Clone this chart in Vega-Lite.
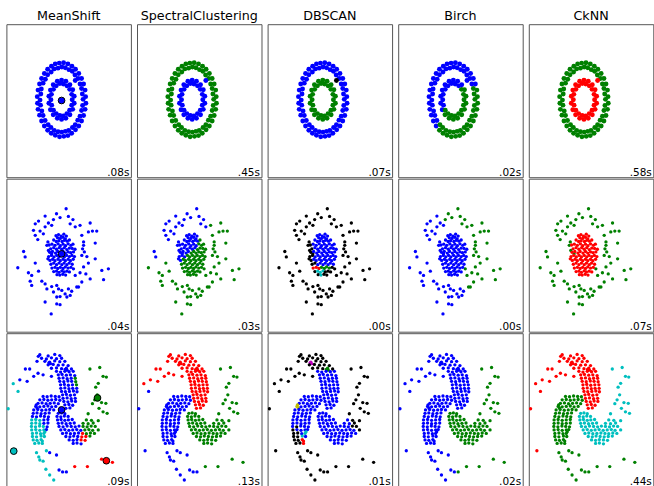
{
"$schema": "https://vega.github.io/schema/vega-lite/v6.json",
"padding": {"left": 5.4, "top": 9.2, "right": 0, "bottom": 0},
"bounds": "flush",
"background": "white",
"datasets": {"groups": [
{"g":"cob","s":"c","k":"p","MS":"b","SC":"g","DB":"b","BI":"b","CK":"g"},
{"g":"cog","s":"c","k":"p","MS":"b","SC":"g","DB":"b","BI":"g","CK":"g"},
{"g":"cib","s":"c","k":"p","MS":"b","SC":"b","DB":"g","BI":"b","CK":"r"},
{"g":"cig","s":"c","k":"p","MS":"b","SC":"b","DB":"g","BI":"g","CK":"r"},
{"g":"cx","s":"c","k":"p","MS":"b","SC":"b","DB":"k","BI":"b","CK":"r"},
{"g":"cm","s":"c","k":"m","MS":"b"},
{"g":"no1","s":"n","k":"p","MS":"b","SC":"b","DB":"k","BI":"b","CK":"g"},
{"g":"no2","s":"n","k":"p","MS":"b","SC":"g","DB":"k","BI":"b","CK":"g"},
{"g":"no3","s":"n","k":"p","MS":"b","SC":"b","DB":"k","BI":"g","CK":"g"},
{"g":"no4","s":"n","k":"p","MS":"b","SC":"g","DB":"k","BI":"g","CK":"g"},
{"g":"nbb","s":"n","k":"p","MS":"b","SC":"b","DB":"b","BI":"b","CK":"r"},
{"g":"ngb","s":"n","k":"p","MS":"b","SC":"g","DB":"b","BI":"b","CK":"r"},
{"g":"nbk","s":"n","k":"p","MS":"b","SC":"b","DB":"k","BI":"b","CK":"r"},
{"g":"ngk","s":"n","k":"p","MS":"b","SC":"g","DB":"k","BI":"b","CK":"r"},
{"g":"ngr","s":"n","k":"p","MS":"b","SC":"g","DB":"r","BI":"b","CK":"r"},
{"g":"ngg","s":"n","k":"p","MS":"b","SC":"g","DB":"g","BI":"b","CK":"r"},
{"g":"ngc","s":"n","k":"p","MS":"b","SC":"g","DB":"c","BI":"b","CK":"r"},
{"g":"nm","s":"n","k":"m","MS":"b"},
{"g":"s1","s":"s","k":"p","MS":"b","SC":"r","DB":"b","BI":"b","CK":"r"},
{"g":"s1g","s":"s","k":"p","MS":"g","SC":"r","DB":"b","BI":"b","CK":"r"},
{"g":"s2","s":"s","k":"p","MS":"b","SC":"r","DB":"k","BI":"b","CK":"r"},
{"g":"s2m","s":"s","k":"p","MS":"b","SC":"r","DB":"m","BI":"b","CK":"r"},
{"g":"s2g","s":"s","k":"p","MS":"b","SC":"r","DB":"g","BI":"b","CK":"r"},
{"g":"s4a","s":"s","k":"p","MS":"c","SC":"r","DB":"k","BI":"b","CK":"r"},
{"g":"s4b","s":"s","k":"p","MS":"c","SC":"b","DB":"k","BI":"b","CK":"r"},
{"g":"c1","s":"s","k":"p","MS":"b","SC":"g","DB":"b","BI":"g","CK":"c"},
{"g":"c2","s":"s","k":"p","MS":"g","SC":"g","DB":"b","BI":"g","CK":"c"},
{"g":"c3","s":"s","k":"p","MS":"r","SC":"g","DB":"b","BI":"g","CK":"c"},
{"g":"c4","s":"s","k":"p","MS":"g","SC":"g","DB":"k","BI":"g","CK":"c"},
{"g":"g1","s":"s","k":"p","MS":"b","SC":"b","DB":"b","BI":"b","CK":"g"},
{"g":"g2","s":"s","k":"p","MS":"c","SC":"b","DB":"k","BI":"b","CK":"g"},
{"g":"g3","s":"s","k":"p","MS":"c","SC":"b","DB":"b","BI":"b","CK":"g"},
{"g":"gy","s":"s","k":"p","MS":"b","SC":"b","DB":"y","BI":"b","CK":"g"},
{"g":"gc","s":"s","k":"p","MS":"c","SC":"b","DB":"c","BI":"b","CK":"g"},
{"g":"gr","s":"s","k":"p","MS":"c","SC":"b","DB":"r","BI":"b","CK":"g"},
{"g":"g5","s":"s","k":"p","MS":"b","SC":"b","DB":"k","BI":"b","CK":"g"},
{"g":"g6","s":"s","k":"p","MS":"r","SC":"g","DB":"k","BI":"g","CK":"g"},
{"g":"g7","s":"s","k":"p","MS":"b","SC":"b","DB":"k","BI":"g","CK":"g"},
{"g":"smb","s":"s","k":"m","MS":"b"},
{"g":"smg","s":"s","k":"m","MS":"g"},
{"g":"smc","s":"s","k":"m","MS":"c"},
{"g":"smr","s":"s","k":"m","MS":"r"},
{"g":"tc","s":"c","k":"t","MS":".08s","SC":".45s","DB":".07s","BI":".02s","CK":".58s"},
{"g":"tn","s":"n","k":"t","MS":".04s","SC":".03s","DB":".00s","BI":".00s","CK":".07s"},
{"g":"ts","s":"s","k":"t","MS":".09s","SC":".13s","DB":".01s","BI":".02s","CK":".44s"}
]},
"data": {"values": [
{"x":0.85,"y":0.01,"g":"cog"},{"x":0.95,"y":0.08,"g":"cog"},{"x":0.82,"y":0.15,"g":"cog"},{"x":0.93,"y":0.25,"g":"cog"},
{"x":0.79,"y":0.29,"g":"cog"},{"x":0.87,"y":0.41,"g":"cob"},{"x":0.73,"y":0.41,"g":"cob"},{"x":0.79,"y":0.55,"g":"cob"},
{"x":0.65,"y":0.55,"g":"cob"},{"x":0.68,"y":0.68,"g":"cob"},{"x":0.53,"y":0.64,"g":"cob"},{"x":0.55,"y":0.79,"g":"cob"},
{"x":0.42,"y":0.74,"g":"cob"},{"x":0.41,"y":0.87,"g":"cob"},{"x":0.29,"y":0.78,"g":"cob"},{"x":0.25,"y":0.93,"g":"cob"},
{"x":0.15,"y":0.83,"g":"cob"},{"x":0.08,"y":0.96,"g":"cob"},{"x":0.01,"y":0.85,"g":"cob"},{"x":-0.09,"y":0.95,"g":"cob"},
{"x":-0.14,"y":0.82,"g":"cob"},{"x":-0.25,"y":0.93,"g":"cob"},{"x":-0.29,"y":0.80,"g":"cob"},{"x":-0.40,"y":0.87,"g":"cob"},
{"x":-0.41,"y":0.72,"g":"cob"},{"x":-0.55,"y":0.79,"g":"cob"},{"x":-0.55,"y":0.65,"g":"cob"},{"x":-0.68,"y":0.68,"g":"cob"},
{"x":-0.64,"y":0.53,"g":"cob"},{"x":-0.79,"y":0.55,"g":"cob"},{"x":-0.73,"y":0.43,"g":"cob"},{"x":-0.87,"y":0.41,"g":"cob"},
{"x":-0.80,"y":0.28,"g":"cob"},{"x":-0.93,"y":0.25,"g":"cob"},{"x":-0.82,"y":0.15,"g":"cob"},{"x":-0.96,"y":0.08,"g":"cob"},
{"x":-0.85,"y":-0.01,"g":"cob"},{"x":-0.95,"y":-0.09,"g":"cob"},{"x":-0.83,"y":-0.14,"g":"cob"},{"x":-0.93,"y":-0.25,"g":"cob"},
{"x":-0.78,"y":-0.29,"g":"cob"},{"x":-0.87,"y":-0.40,"g":"cob"},{"x":-0.73,"y":-0.41,"g":"cob"},{"x":-0.79,"y":-0.55,"g":"cob"},
{"x":-0.65,"y":-0.54,"g":"cob"},{"x":-0.68,"y":-0.68,"g":"cob"},{"x":-0.53,"y":-0.65,"g":"cog"},{"x":-0.55,"y":-0.79,"g":"cog"},
{"x":-0.42,"y":-0.72,"g":"cog"},{"x":-0.41,"y":-0.87,"g":"cog"},{"x":-0.29,"y":-0.80,"g":"cog"},{"x":-0.25,"y":-0.92,"g":"cog"},
{"x":-0.14,"y":-0.83,"g":"cog"},{"x":-0.08,"y":-0.96,"g":"cog"},{"x":0.01,"y":-0.84,"g":"cog"},{"x":0.09,"y":-0.95,"g":"cog"},
{"x":0.15,"y":-0.82,"g":"cog"},{"x":0.25,"y":-0.93,"g":"cog"},{"x":0.28,"y":-0.80,"g":"cog"},{"x":0.40,"y":-0.87,"g":"cog"},
{"x":0.43,"y":-0.72,"g":"cog"},{"x":0.55,"y":-0.78,"g":"cog"},{"x":0.54,"y":-0.65,"g":"cog"},{"x":0.68,"y":-0.68,"g":"cog"},
{"x":0.64,"y":-0.53,"g":"cog"},{"x":0.79,"y":-0.55,"g":"cog"},{"x":0.73,"y":-0.43,"g":"cog"},{"x":0.87,"y":-0.41,"g":"cog"},
{"x":0.79,"y":-0.28,"g":"cog"},{"x":0.93,"y":-0.25,"g":"cog"},{"x":0.83,"y":-0.15,"g":"cog"},{"x":0.96,"y":-0.09,"g":"cog"},
{"x":0.42,"y":0.00,"g":"cig"},{"x":0.50,"y":0.09,"g":"cig"},{"x":0.40,"y":0.14,"g":"cig"},{"x":0.44,"y":0.26,"g":"cig"},
{"x":0.32,"y":0.27,"g":"cig"},{"x":0.33,"y":0.39,"g":"cib"},{"x":0.21,"y":0.36,"g":"cib"},{"x":0.17,"y":0.48,"g":"cib"},
{"x":0.07,"y":0.41,"g":"cib"},{"x":0.00,"y":0.51,"g":"cib"},{"x":-0.07,"y":0.42,"g":"cib"},{"x":-0.17,"y":0.48,"g":"cib"},
{"x":-0.21,"y":0.36,"g":"cib"},{"x":-0.33,"y":0.39,"g":"cib"},{"x":-0.32,"y":0.27,"g":"cib"},{"x":-0.44,"y":0.25,"g":"cib"},
{"x":-0.40,"y":0.14,"g":"cib"},{"x":-0.50,"y":0.09,"g":"cib"},{"x":-0.42,"y":0.00,"g":"cib"},{"x":-0.50,"y":-0.09,"g":"cib"},
{"x":-0.39,"y":-0.14,"g":"cib"},{"x":-0.44,"y":-0.26,"g":"cib"},{"x":-0.32,"y":-0.27,"g":"cig"},{"x":-0.33,"y":-0.39,"g":"cig"},
{"x":-0.21,"y":-0.36,"g":"cig"},{"x":-0.17,"y":-0.48,"g":"cig"},{"x":-0.07,"y":-0.41,"g":"cig"},{"x":0.00,"y":-0.51,"g":"cig"},
{"x":0.07,"y":-0.42,"g":"cig"},{"x":0.17,"y":-0.48,"g":"cig"},{"x":0.21,"y":-0.36,"g":"cig"},{"x":0.33,"y":-0.39,"g":"cig"},
{"x":0.32,"y":-0.27,"g":"cig"},{"x":0.44,"y":-0.25,"g":"cig"},{"x":0.40,"y":-0.14,"g":"cig"},{"x":0.50,"y":-0.09,"g":"cig"},
{"x":0.54,"y":0.50,"g":"cx"},
{"x":0.00,"y":-0.02,"g":"cm"},

{"x":0.18,"y":1.18,"g":"no3"},{"x":-0.65,"y":0.99,"g":"no1"},{"x":-0.06,"y":0.95,"g":"no3"},{"x":0.27,"y":0.98,"g":"no3"},
{"x":-0.32,"y":0.90,"g":"no3"},{"x":-0.91,"y":0.86,"g":"no1"},{"x":-0.52,"y":0.81,"g":"no1"},{"x":-0.39,"y":0.75,"g":"no1"},
{"x":0.34,"y":0.79,"g":"no3"},{"x":0.54,"y":0.71,"g":"no3"},{"x":0.73,"y":0.75,"g":"no4"},{"x":1.13,"y":0.81,"g":"no4"},
{"x":-1.11,"y":0.62,"g":"no1"},{"x":-0.85,"y":0.60,"g":"no1"},{"x":-0.72,"y":0.53,"g":"no1"},{"x":-1.04,"y":0.49,"g":"no1"},
{"x":1.06,"y":0.58,"g":"no4"},{"x":1.22,"y":0.60,"g":"no4"},{"x":1.39,"y":0.60,"g":"no4"},{"x":0.80,"y":0.49,"g":"no4"},
{"x":-0.94,"y":0.38,"g":"no1"},{"x":0.87,"y":0.32,"g":"no4"},{"x":1.33,"y":0.29,"g":"no4"},{"x":-0.54,"y":0.32,"g":"no1"},
{"x":-0.52,"y":0.10,"g":"no1"},{"x":-0.39,"y":0.01,"g":"no1"},{"x":-1.50,"y":0.07,"g":"no1"},{"x":0.87,"y":0.23,"g":"no4"},
{"x":0.80,"y":-0.03,"g":"no4"},{"x":1.00,"y":-0.06,"g":"no4"},{"x":1.06,"y":-0.23,"g":"no4"},{"x":-1.04,"y":-0.23,"g":"no2"},
{"x":-1.73,"y":-0.35,"g":"no2"},{"x":-1.31,"y":-0.48,"g":"no2"},{"x":-0.91,"y":-0.44,"g":"no2"},{"x":-1.18,"y":-0.55,"g":"no2"},
{"x":1.59,"y":-0.42,"g":"no4"},{"x":1.85,"y":-0.38,"g":"no4"},{"x":0.87,"y":-0.33,"g":"no4"},{"x":0.73,"y":-0.48,"g":"no4"},
{"x":0.47,"y":-0.38,"g":"no4"},{"x":0.96,"y":-0.51,"g":"no4"},{"x":1.66,"y":-0.66,"g":"no4"},{"x":-1.24,"y":-0.70,"g":"no2"},
{"x":-0.78,"y":-0.70,"g":"no2"},{"x":-0.65,"y":-0.77,"g":"no2"},{"x":-0.39,"y":-0.84,"g":"no2"},{"x":-0.19,"y":-0.81,"g":"no2"},
{"x":0.80,"y":-0.72,"g":"no4"},{"x":0.67,"y":-0.85,"g":"no4"},{"x":-1.18,"y":-0.81,"g":"no2"},{"x":-0.58,"y":-0.90,"g":"no2"},
{"x":-0.12,"y":-0.90,"g":"no2"},{"x":0.01,"y":-0.94,"g":"no2"},{"x":0.14,"y":-1.03,"g":"no2"},{"x":0.27,"y":-0.90,"g":"no2"},
{"x":0.40,"y":-0.96,"g":"no2"},{"x":-0.19,"y":-1.11,"g":"no2"},{"x":-0.06,"y":-1.10,"g":"no2"},{"x":0.21,"y":-1.11,"g":"no2"},
{"x":0.60,"y":-0.85,"g":"no4"},{"x":-0.65,"y":-1.24,"g":"no2"},{"x":-0.19,"y":-1.29,"g":"no2"},{"x":-0.06,"y":-1.31,"g":"no2"},
{"x":-0.41,"y":-1.55,"g":"no2"},{"x":0.83,"y":0.14,"g":"no4"},{"x":0.90,"y":0.06,"g":"no4"},{"x":-0.58,"y":0.23,"g":"no1"},
{"x":-1.04,"y":0.79,"g":"no1"},{"x":-0.65,"y":0.71,"g":"no1"},{"x":-0.32,"y":-0.98,"g":"no2"},{"x":0.34,"y":-1.07,"g":"no2"},
{"x":1.33,"y":-0.12,"g":"no4"},{"x":0.54,"y":-0.55,"g":"no4"},{"x":1.13,"y":-0.64,"g":"no4"},{"x":-1.44,"y":-0.07,"g":"no1"},
{"x":0.45,"y":0.90,"g":"no3"},{"x":-0.20,"y":1.05,"g":"no3"},

{"x":-0.22,"y":0.48,"g":"nbb"},{"x":-0.12,"y":0.51,"g":"nbb"},{"x":-0.02,"y":0.47,"g":"nbb"},{"x":0.09,"y":0.52,"g":"nbb"},{"x":0.19,"y":0.47,"g":"nbb"},
{"x":-0.16,"y":0.43,"g":"nbb"},{"x":-0.05,"y":0.41,"g":"nbb"},{"x":0.06,"y":0.44,"g":"nbb"},{"x":0.15,"y":0.40,"g":"nbb"},
{"x":-0.31,"y":0.37,"g":"nbb"},{"x":-0.21,"y":0.33,"g":"nbb"},{"x":-0.11,"y":0.35,"g":"nbb"},{"x":0.02,"y":0.33,"g":"nbb"},
{"x":0.11,"y":0.36,"g":"nbb"},{"x":0.22,"y":0.34,"g":"nbb"},{"x":0.31,"y":0.37,"g":"ngb"},
{"x":-0.38,"y":0.26,"g":"nbb"},{"x":-0.26,"y":0.23,"g":"nbb"},{"x":-0.14,"y":0.27,"g":"nbb"},{"x":-0.05,"y":0.22,"g":"nbb"},
{"x":0.06,"y":0.26,"g":"nbb"},{"x":0.16,"y":0.22,"g":"nbb"},{"x":0.26,"y":0.27,"g":"ngb"},{"x":0.37,"y":0.23,"g":"ngb"},
{"x":-0.43,"y":0.14,"g":"nbk"},{"x":-0.31,"y":0.17,"g":"nbb"},{"x":-0.20,"y":0.13,"g":"nbb"},{"x":-0.09,"y":0.17,"g":"nbb"},
{"x":0.01,"y":0.13,"g":"nbb"},{"x":0.11,"y":0.17,"g":"nbb"},{"x":0.21,"y":0.12,"g":"ngb"},{"x":0.31,"y":0.16,"g":"ngb"},
{"x":0.42,"y":0.15,"g":"ngb"},
{"x":-0.47,"y":0.05,"g":"nbk"},{"x":-0.36,"y":0.07,"g":"nbb"},{"x":-0.24,"y":0.03,"g":"nbb"},{"x":-0.15,"y":0.07,"g":"nbb"},
{"x":-0.04,"y":0.03,"g":"ngb"},{"x":0.06,"y":0.07,"g":"ngb"},{"x":0.15,"y":0.03,"g":"ngb"},{"x":0.26,"y":0.06,"g":"ngb"},
{"x":0.36,"y":0.04,"g":"ngb"},{"x":0.47,"y":0.06,"g":"ngb"},
{"x":-0.51,"y":-0.06,"g":"nbk"},{"x":-0.40,"y":-0.03,"g":"nbk"},{"x":-0.30,"y":-0.07,"g":"nbb"},{"x":-0.19,"y":-0.03,"g":"ngb"},
{"x":-0.10,"y":-0.07,"g":"ngb"},{"x":0.01,"y":-0.03,"g":"ngb"},{"x":0.11,"y":-0.07,"g":"ngb"},{"x":0.20,"y":-0.03,"g":"ngb"},
{"x":0.31,"y":-0.06,"g":"ngb"},{"x":0.41,"y":-0.03,"g":"ngb"},{"x":0.51,"y":-0.06,"g":"ngb"},
{"x":-0.46,"y":-0.16,"g":"nbk"},{"x":-0.35,"y":-0.13,"g":"ngb"},{"x":-0.26,"y":-0.17,"g":"ngb"},{"x":-0.14,"y":-0.13,"g":"ngb"},
{"x":-0.05,"y":-0.17,"g":"ngb"},{"x":0.06,"y":-0.13,"g":"ngb"},{"x":0.15,"y":-0.17,"g":"ngb"},{"x":0.26,"y":-0.13,"g":"ngb"},
{"x":0.35,"y":-0.17,"g":"ngb"},{"x":0.46,"y":-0.13,"g":"ngb"},
{"x":-0.42,"y":-0.26,"g":"ngk"},{"x":-0.31,"y":-0.23,"g":"ngk"},{"x":-0.20,"y":-0.27,"g":"ngb"},{"x":-0.10,"y":-0.23,"g":"ngb"},
{"x":0.01,"y":-0.27,"g":"ngb"},{"x":0.10,"y":-0.23,"g":"ngb"},{"x":0.21,"y":-0.27,"g":"ngb"},{"x":0.30,"y":-0.23,"g":"ngb"},
{"x":0.42,"y":-0.26,"g":"ngb"},
{"x":-0.38,"y":-0.36,"g":"ngr"},{"x":-0.26,"y":-0.34,"g":"ngr"},{"x":-0.15,"y":-0.37,"g":"ngr"},{"x":-0.05,"y":-0.34,"g":"ngg"},
{"x":0.06,"y":-0.37,"g":"ngg"},{"x":0.15,"y":-0.33,"g":"ngg"},{"x":0.26,"y":-0.36,"g":"ngg"},{"x":0.37,"y":-0.34,"g":"ngk"},
{"x":-0.31,"y":-0.45,"g":"ngk"},{"x":-0.20,"y":-0.44,"g":"ngc"},{"x":-0.10,"y":-0.47,"g":"ngc"},{"x":0.01,"y":-0.43,"g":"ngc"},
{"x":0.10,"y":-0.46,"g":"ngk"},{"x":0.21,"y":-0.44,"g":"ngk"},{"x":0.31,"y":-0.46,"g":"ngk"},
{"x":-0.18,"y":-0.53,"g":"ngk"},{"x":-0.07,"y":-0.54,"g":"ngc"},{"x":0.05,"y":-0.52,"g":"ngk"},{"x":0.16,"y":-0.54,"g":"ngk"},
{"x":0.53,"y":0.13,"g":"ngb"},{"x":-0.49,"y":0.24,"g":"nbk"},{"x":0.45,"y":0.26,"g":"ngb"},{"x":-0.54,"y":-0.12,"g":"nbk"},
{"x":0.00,"y":0.01,"g":"nm"},

{"x":-0.86,"y":1.40,"g":"s2"},{"x":-0.53,"y":1.37,"g":"s2"},{"x":-0.27,"y":1.41,"g":"s2"},{"x":-0.07,"y":1.38,"g":"s2"},
{"x":-0.79,"y":1.31,"g":"s2"},{"x":-0.60,"y":1.29,"g":"s2"},{"x":-0.40,"y":1.32,"g":"s2"},{"x":-0.20,"y":1.30,"g":"s2"},{"x":0.00,"y":1.31,"g":"s2"},
{"x":-0.66,"y":1.23,"g":"s2"},{"x":-0.47,"y":1.21,"g":"s2m"},{"x":-0.27,"y":1.24,"g":"s2"},{"x":-0.07,"y":1.22,"g":"s2"},{"x":0.13,"y":1.23,"g":"s2"},
{"x":-0.44,"y":1.17,"g":"s2m"},{"x":-0.50,"y":1.19,"g":"s2m"},
{"x":-0.53,"y":1.14,"g":"s2"},{"x":-0.33,"y":1.15,"g":"s2"},{"x":-0.13,"y":1.13,"g":"s2"},{"x":0.06,"y":1.14,"g":"s2"},{"x":0.26,"y":1.12,"g":"s2"},
{"x":-0.40,"y":1.05,"g":"s2"},{"x":-0.20,"y":1.06,"g":"s2"},{"x":0.00,"y":1.04,"g":"s2"},{"x":0.19,"y":1.05,"g":"s2g"},{"x":0.39,"y":1.03,"g":"s2"},
{"x":0.14,"y":1.02,"g":"s2g"},{"x":0.22,"y":1.00,"g":"s2g"},
{"x":-0.20,"y":0.97,"g":"s1"},{"x":-0.04,"y":0.95,"g":"s1"},{"x":0.13,"y":0.97,"g":"s1"},{"x":0.30,"y":0.96,"g":"s1"},{"x":0.46,"y":0.97,"g":"s1"},
{"x":-0.13,"y":0.88,"g":"s1"},{"x":0.02,"y":0.89,"g":"s1"},{"x":0.19,"y":0.87,"g":"s1"},{"x":0.35,"y":0.88,"g":"s1"},{"x":0.52,"y":0.86,"g":"s1"},
{"x":-0.10,"y":0.79,"g":"s1"},{"x":0.06,"y":0.80,"g":"s1"},{"x":0.22,"y":0.78,"g":"s1"},{"x":0.38,"y":0.79,"g":"s1"},{"x":0.54,"y":0.79,"g":"s1g"},
{"x":-0.07,"y":0.71,"g":"s1"},{"x":0.09,"y":0.70,"g":"s1"},{"x":0.25,"y":0.72,"g":"s1"},{"x":0.40,"y":0.71,"g":"s1"},{"x":0.56,"y":0.70,"g":"s1g"},
{"x":-0.04,"y":0.62,"g":"s1"},{"x":0.11,"y":0.63,"g":"s1"},{"x":0.27,"y":0.61,"g":"s1"},{"x":0.43,"y":0.62,"g":"s1"},{"x":0.59,"y":0.62,"g":"s1g"},
{"x":-0.03,"y":0.53,"g":"s1"},{"x":0.13,"y":0.54,"g":"s1"},{"x":0.29,"y":0.52,"g":"s1"},{"x":0.44,"y":0.53,"g":"s1"},{"x":0.60,"y":0.53,"g":"s1"},
{"x":0.00,"y":0.45,"g":"s1"},{"x":0.15,"y":0.44,"g":"s1"},{"x":0.31,"y":0.45,"g":"s1"},{"x":0.47,"y":0.46,"g":"s1"},{"x":0.61,"y":0.44,"g":"s1"},
{"x":0.04,"y":0.36,"g":"s1"},{"x":0.19,"y":0.37,"g":"s1"},{"x":0.35,"y":0.35,"g":"s1"},{"x":0.51,"y":0.36,"g":"s1"},
{"x":0.06,"y":0.27,"g":"s1"},{"x":0.22,"y":0.28,"g":"s1"},{"x":0.38,"y":0.26,"g":"s1"},{"x":0.54,"y":0.27,"g":"s1"},
{"x":0.09,"y":0.19,"g":"s1"},{"x":0.25,"y":0.18,"g":"s1"},{"x":0.40,"y":0.20,"g":"s1"},{"x":0.55,"y":0.19,"g":"s1"},
{"x":0.13,"y":0.10,"g":"s1"},{"x":0.29,"y":0.11,"g":"s1"},{"x":0.44,"y":0.09,"g":"s1"},
{"x":0.17,"y":0.01,"g":"s1"},{"x":0.33,"y":0.02,"g":"s1"},
{"x":-1.43,"y":1.03,"g":"s2"},{"x":-1.26,"y":1.03,"g":"s2"},{"x":-1.10,"y":0.84,"g":"s2"},{"x":-0.93,"y":0.92,"g":"s2"},
{"x":-0.73,"y":0.88,"g":"s2"},{"x":-0.40,"y":0.84,"g":"s2"},{"x":-1.65,"y":0.75,"g":"s2"},{"x":-1.36,"y":0.71,"g":"s2"},
{"x":-0.97,"y":1.23,"g":"s2"},{"x":-0.92,"y":1.36,"g":"s2"},
{"x":-1.91,"y":0.65,"g":"s4a"},{"x":-1.72,"y":0.45,"g":"s4b"},{"x":-2.11,"y":0.00,"g":"s4b"},{"x":-1.86,"y":-1.09,"g":"s4b"},

{"x":-0.13,"y":-0.12,"g":"c1"},{"x":0.00,"y":-0.11,"g":"c1"},{"x":0.13,"y":-0.13,"g":"c1"},
{"x":-0.18,"y":-0.20,"g":"c1"},{"x":-0.03,"y":-0.21,"g":"c1"},{"x":0.11,"y":-0.19,"g":"c1"},{"x":0.26,"y":-0.20,"g":"c1"},
{"x":-0.16,"y":-0.29,"g":"c1"},{"x":-0.02,"y":-0.28,"g":"c1"},{"x":0.13,"y":-0.30,"g":"c1"},{"x":0.27,"y":-0.29,"g":"c1"},{"x":0.42,"y":-0.28,"g":"c1"},
{"x":0.98,"y":-0.29,"g":"c2"},{"x":1.18,"y":-0.30,"g":"c4"},
{"x":-0.13,"y":-0.38,"g":"c1"},{"x":0.02,"y":-0.37,"g":"c1"},{"x":0.18,"y":-0.39,"g":"c1"},{"x":0.34,"y":-0.38,"g":"c1"},{"x":0.50,"y":-0.37,"g":"c1"},
{"x":0.85,"y":-0.38,"g":"c2"},{"x":1.05,"y":-0.39,"g":"c2"},{"x":1.25,"y":-0.37,"g":"c4"},
{"x":-0.10,"y":-0.46,"g":"c1"},{"x":0.06,"y":-0.47,"g":"c1"},{"x":0.22,"y":-0.45,"g":"c1"},{"x":0.38,"y":-0.46,"g":"c1"},{"x":0.54,"y":-0.47,"g":"c1"},{"x":0.69,"y":-0.45,"g":"c1"},
{"x":0.85,"y":-0.46,"g":"c2"},{"x":1.01,"y":-0.47,"g":"c2"},{"x":1.17,"y":-0.45,"g":"c4"},{"x":1.33,"y":-0.46,"g":"c4"},
{"x":-0.03,"y":-0.55,"g":"c1"},{"x":0.13,"y":-0.54,"g":"c1"},{"x":0.29,"y":-0.56,"g":"c1"},{"x":0.44,"y":-0.55,"g":"c1"},{"x":0.60,"y":-0.54,"g":"c1"},{"x":0.76,"y":-0.56,"g":"c1"},
{"x":0.92,"y":-0.55,"g":"c2"},{"x":1.08,"y":-0.54,"g":"c2"},{"x":1.23,"y":-0.56,"g":"c2"},{"x":1.45,"y":-0.55,"g":"c4"},
{"x":0.04,"y":-0.64,"g":"c1"},{"x":0.19,"y":-0.63,"g":"c1"},{"x":0.35,"y":-0.65,"g":"c1"},{"x":0.51,"y":-0.64,"g":"c1"},{"x":0.67,"y":-0.63,"g":"c1"},
{"x":0.83,"y":-0.64,"g":"c3"},{"x":0.98,"y":-0.65,"g":"c2"},{"x":1.14,"y":-0.63,"g":"c2"},{"x":1.30,"y":-0.64,"g":"c2"},
{"x":0.17,"y":-0.72,"g":"c1"},{"x":0.33,"y":-0.73,"g":"c1"},{"x":0.48,"y":-0.71,"g":"c1"},{"x":0.64,"y":-0.72,"g":"c1"},
{"x":0.80,"y":-0.73,"g":"c3"},{"x":0.96,"y":-0.72,"g":"c3"},{"x":1.12,"y":-0.71,"g":"c2"},
{"x":0.30,"y":-0.81,"g":"c1"},{"x":0.46,"y":-0.82,"g":"c1"},{"x":0.61,"y":-0.80,"g":"c1"},{"x":0.77,"y":-0.81,"g":"c3"},{"x":0.93,"y":-0.82,"g":"c3"},
{"x":0.46,"y":-0.90,"g":"c1"},{"x":0.61,"y":-0.89,"g":"c1"},{"x":0.77,"y":-0.91,"g":"c1"},
{"x":1.12,"y":1.03,"g":"c4"},{"x":1.51,"y":1.07,"g":"c4"},{"x":1.64,"y":0.84,"g":"c4"},{"x":1.77,"y":0.82,"g":"c4"},
{"x":1.45,"y":0.66,"g":"c4"},{"x":1.35,"y":0.56,"g":"c4"},{"x":1.41,"y":0.36,"g":"c4"},{"x":1.31,"y":0.23,"g":"c4"},
{"x":1.58,"y":0.16,"g":"c4"},{"x":1.75,"y":0.14,"g":"c4"},{"x":1.22,"y":0.13,"g":"c4"},{"x":1.48,"y":0.01,"g":"c4"},
{"x":1.64,"y":-0.08,"g":"c4"},{"x":1.80,"y":-0.12,"g":"c4"},{"x":1.05,"y":-0.13,"g":"c4"},{"x":1.45,"y":-0.31,"g":"c4"},

{"x":-0.73,"y":0.32,"g":"g1"},{"x":-0.57,"y":0.31,"g":"g1"},{"x":-0.41,"y":0.33,"g":"g1"},{"x":-0.25,"y":0.32,"g":"g1"},{"x":-0.10,"y":0.31,"g":"g1"},
{"x":-0.86,"y":0.23,"g":"g1"},{"x":-0.70,"y":0.24,"g":"g1"},{"x":-0.54,"y":0.22,"g":"g1"},{"x":-0.39,"y":0.23,"g":"g1"},{"x":-0.23,"y":0.24,"g":"g1"},{"x":-0.07,"y":0.22,"g":"g1"},
{"x":-0.93,"y":0.14,"g":"g1"},{"x":-0.77,"y":0.15,"g":"g1"},{"x":-0.61,"y":0.13,"g":"g1"},{"x":-0.45,"y":0.14,"g":"g1"},{"x":-0.29,"y":0.15,"g":"g1"},{"x":-0.13,"y":0.13,"g":"g1"},
{"x":-1.02,"y":0.06,"g":"gy"},{"x":-0.97,"y":0.02,"g":"gy"},{"x":-1.00,"y":0.10,"g":"gy"},
{"x":-0.86,"y":0.05,"g":"g1"},{"x":-0.70,"y":0.06,"g":"g1"},{"x":-0.54,"y":0.07,"g":"g1"},{"x":-0.39,"y":0.05,"g":"g1"},{"x":-0.23,"y":0.06,"g":"g1"},
{"x":-1.10,"y":-0.03,"g":"g1"},{"x":-0.94,"y":-0.02,"g":"g1"},{"x":-0.78,"y":-0.04,"g":"g1"},{"x":-0.62,"y":-0.03,"g":"g1"},{"x":-0.47,"y":-0.02,"g":"g1"},{"x":-0.31,"y":-0.03,"g":"g1"},
{"x":-1.12,"y":-0.12,"g":"g1"},{"x":-0.97,"y":-0.11,"g":"g1"},{"x":-0.81,"y":-0.13,"g":"g1"},{"x":-0.65,"y":-0.12,"g":"g1"},{"x":-0.49,"y":-0.11,"g":"g1"},
{"x":-1.15,"y":-0.20,"g":"g1"},{"x":-0.99,"y":-0.21,"g":"g1"},{"x":-0.83,"y":-0.19,"g":"g1"},{"x":-0.68,"y":-0.20,"g":"g1"},{"x":-0.52,"y":-0.21,"g":"g1"},
{"x":-1.18,"y":-0.29,"g":"g3"},{"x":-1.02,"y":-0.28,"g":"g3"},{"x":-0.86,"y":-0.30,"g":"g3"},{"x":-0.70,"y":-0.29,"g":"g1"},{"x":-0.54,"y":-0.28,"g":"g1"},
{"x":-1.18,"y":-0.38,"g":"g3"},{"x":-1.02,"y":-0.37,"g":"g3"},{"x":-0.86,"y":-0.39,"g":"g3"},{"x":-0.70,"y":-0.38,"g":"g1"},{"x":-0.54,"y":-0.37,"g":"g1"},
{"x":-1.19,"y":-0.46,"g":"g3"},{"x":-1.03,"y":-0.47,"g":"g2"},{"x":-0.87,"y":-0.45,"g":"g3"},{"x":-0.72,"y":-0.46,"g":"g3"},{"x":-0.57,"y":-0.47,"g":"g1"},
{"x":-1.18,"y":-0.55,"g":"g2"},{"x":-1.02,"y":-0.54,"g":"g3"},{"x":-0.86,"y":-0.56,"g":"g3"},{"x":-0.70,"y":-0.55,"g":"g3"},{"x":-0.60,"y":-0.54,"g":"g1"},
{"x":-1.15,"y":-0.64,"g":"g2"},{"x":-0.99,"y":-0.63,"g":"g2"},{"x":-0.83,"y":-0.65,"g":"g3"},{"x":-0.70,"y":-0.64,"g":"gc"},{"x":-0.66,"y":-0.60,"g":"gc"},
{"x":-1.15,"y":-0.72,"g":"g2"},{"x":-0.99,"y":-0.73,"g":"g2"},{"x":-0.81,"y":-0.71,"g":"gc"},{"x":-0.68,"y":-0.72,"g":"g3"},
{"x":-1.12,"y":-0.81,"g":"g2"},{"x":-0.97,"y":-0.82,"g":"g2"},{"x":-0.81,"y":-0.80,"g":"gr"},{"x":-0.76,"y":-0.84,"g":"gr"},
{"x":-1.06,"y":-0.90,"g":"g2"},{"x":-0.90,"y":-0.89,"g":"g2"},{"x":-0.76,"y":-0.90,"g":"gr"},
{"x":-0.99,"y":-1.14,"g":"g2"},{"x":-0.86,"y":-1.33,"g":"g2"},{"x":-0.73,"y":-1.36,"g":"g2"},{"x":-0.60,"y":-1.09,"g":"g2"},
{"x":-0.47,"y":-1.14,"g":"g5"},{"x":-0.20,"y":-1.20,"g":"g5"},{"x":-0.62,"y":-1.57,"g":"g2"},{"x":-0.47,"y":-1.72,"g":"g2"},
{"x":-0.31,"y":-1.85,"g":"g2"},{"x":-0.10,"y":-1.59,"g":"g5"},{"x":0.04,"y":-1.64,"g":"g5"},{"x":0.19,"y":-1.64,"g":"g7"},
{"x":0.52,"y":-1.50,"g":"g6"},{"x":1.02,"y":-1.50,"g":"g6"},{"x":1.58,"y":-1.31,"g":"g6"},{"x":2.01,"y":-1.39,"g":"g6"},
{"x":-0.90,"y":-1.25,"g":"g2"},
{"x":0.00,"y":-0.03,"g":"smb"},{"x":1.42,"y":0.28,"g":"smg"},{"x":-1.89,"y":-1.10,"g":"smc"},{"x":1.77,"y":-1.35,"g":"smr"},
{"g":"tc"},{"g":"tn"},{"g":"ts"}
]},
"transform": [
{"lookup": "g", "from": {"data": {"name": "groups"}, "key": "g", "fields": ["s","k","MS","SC","DB","BI","CK"]}},
{"fold": ["MS","SC","DB","BI","CK"], "as": ["m","c"]},
{"filter": "datum.c != null"}
],
"facet": {
"row": {"field": "s", "type": "nominal", "sort": ["c","n","s"], "title": null, "header": {"labels": false, "title": null}},
"column": {"field": "m", "type": "nominal", "sort": ["MS","SC","DB","BI","CK"], "title": null,
"header": {"labelExpr": "datum.value == 'MS' ? 'MeanShift' : datum.value == 'SC' ? 'SpectralClustering' : datum.value == 'DB' ? 'DBSCAN' : datum.value == 'BI' ? 'Birch' : 'CkNN'",
"labelFont": "DejaVu Sans", "labelFontSize": 12.7, "labelColor": "#000000", "labelPadding": -8.3, "labelBaseline": "alphabetic"}}
},
"spacing": {"row": 1.5, "column": 5.6},
"spec": {
"width": 124.5, "height": 153,
"encoding": {
"x": {"field": "x", "type": "quantitative", "scale": {"domain": [-2.18, 2.74], "nice": false, "zero": false}, "axis": null},
"y": {"field": "y", "type": "quantitative", "scale": {"domain": [-2.01, 1.96], "nice": false, "zero": false}, "axis": null}
},
"layer": [
{"transform": [{"filter": "datum.k == 'p'"}],
"mark": {"type": "circle", "opacity": 1, "clip": true},
"encoding": {
"color": {"field": "c", "type": "nominal", "legend": null,
"scale": {"domain": ["b","g","r","c","m","y","k"], "range": ["#0000ff","#008000","#ff0000","#00bfbf","#bf00bf","#bfbf00","#000000"]}},
"size": {"condition": {"test": "datum.s == 'c'", "value": 24}, "value": 11}}},
{"transform": [{"filter": "datum.k == 'm'"}],
"mark": {"type": "circle", "opacity": 1, "size": 45, "stroke": "#000000", "strokeWidth": 1, "clip": true},
"encoding": {"color": {"field": "c", "type": "nominal", "legend": null}}},
{"transform": [{"filter": "datum.k == 't'"}],
"mark": {"type": "text", "align": "right", "baseline": "alphabetic", "dx": -1.5, "dy": -1.5, "font": "DejaVu Sans", "fontSize": 10.5, "color": "#000000"},
"encoding": {"x": {"value": "width"}, "y": {"value": "height"}, "text": {"field": "c"}}}
]
},
"config": {"view": {"stroke": "#555555", "strokeWidth": 1}}
}
